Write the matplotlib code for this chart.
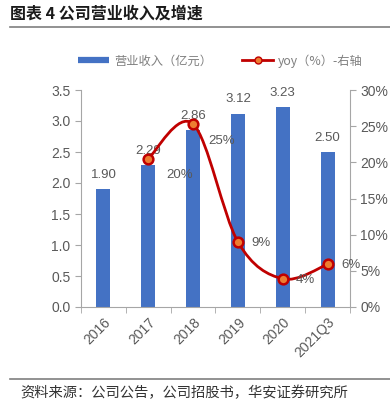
import matplotlib.pyplot as plt
from matplotlib.path import Path
from matplotlib.patches import PathPatch
from matplotlib.lines import Line2D
import numpy as np

plt.rcParams['font.family'] = ['Noto Sans CJK SC', 'DejaVu Sans']

years = ['2016', '2017', '2018', '2019', '2020', '2021Q3']
revenue = [1.90, 2.29, 2.86, 3.12, 3.23, 2.50]
yoy_years = [1, 2, 3, 4, 5]   # 2017 .. 2021Q3
yoy = [20.5, 25.3, 9.0, 3.9, 5.9]
yoy_labels = ['20%', '25%', '9%', '4%', '6%']

# label offsets in pixels (dx, dy) for the yoy labels
yoy_offsets = [(18, -16), (15, -17), (13, -1), (13, -1), (14, -1)]

grey = '#595959'
blue = '#4472C4'
red = '#C00000'
orange = '#ED7D31'

fig = plt.figure(figsize=(3.9, 4.15), dpi=100)
ax = fig.add_axes([81 / 390, 1 - 307 / 415, 269 / 390, 217 / 415])
ax2 = ax.twinx()

x = np.arange(len(years))
ax.bar(x, revenue, width=0.31, color=blue, zorder=2)
for xi, v in zip(x, revenue):
    ax.text(xi, v + 0.13, f'{v:.2f}', ha='center', va='bottom', fontsize=9.5, color=grey,
            family='Liberation Sans')

ax.set_ylim(0, 3.5)
ax.set_xlim(-0.5, len(years) - 0.5)
ax.set_yticks(np.arange(0, 3.51, 0.5))
ax.set_yticklabels([f'{t:.1f}' for t in np.arange(0, 3.51, 0.5)])
ax.set_xticks(x)
ax.set_xticklabels(years, rotation=45, ha='right', rotation_mode='anchor')
ax.set_xticks(np.arange(-0.5, len(years)), minor=True)
ax.tick_params(axis='x', which='major', length=0, pad=6)
ax.tick_params(axis='x', which='minor', length=4, color='#A6A6A6')

ax2.set_ylim(0, 30)
ax2.set_yticks(range(0, 31, 5))
ax2.set_yticklabels([f'{t}%' for t in range(0, 31, 5)])

for a in (ax, ax2):
    a.spines['top'].set_visible(False)
    for s in ('left', 'right', 'bottom'):
        a.spines[s].set_color('#A6A6A6')
    a.tick_params(axis='y', colors=grey, labelsize=10, length=4)
    a.tick_params(axis='y', color='#A6A6A6')
    a.tick_params(axis='x', colors=grey, labelsize=10)
    for lab in a.get_xticklabels() + a.get_yticklabels():
        lab.set_family('Liberation Sans')
ax.spines['right'].set_visible(False)
ax2.spines['left'].set_visible(False)
ax2.spines['bottom'].set_visible(False)

# smooth curve through yoy points (Catmull-Rom as cubic bezier)
pts = np.column_stack([yoy_years, yoy]).astype(float)
verts = [tuple(pts[0])]
codes = [Path.MOVETO]
for i in range(len(pts) - 1):
    p0 = pts[i - 1] if i > 0 else pts[i]
    p1, p2 = pts[i], pts[i + 1]
    p3 = pts[i + 2] if i + 2 < len(pts) else pts[i + 1]
    c1 = p1 + (p2 - p0) / 6
    c2 = p2 - (p3 - p1) / 6
    verts += [tuple(c1), tuple(c2), tuple(p2)]
    codes += [Path.CURVE4] * 3
ax2.add_patch(PathPatch(Path(verts, codes), fill=False, edgecolor=red, lw=2, zorder=3))
ax2.plot(yoy_years, yoy, ls='none', marker='o', ms=7, mfc=orange, mec=red, mew=1.8, zorder=4)
for xi, v, lab, (dx, dy) in zip(yoy_years, yoy, yoy_labels, yoy_offsets):
    ax2.annotate(lab, (xi, v), xytext=(dx * 0.72, dy * 0.72), textcoords='offset points',
                 ha='left', va='center', fontsize=9.5, color=grey, family='Liberation Sans')

handles = [Line2D([], [], color=blue, lw=4.5, solid_capstyle='butt'),
           Line2D([], [], color=red, lw=2, marker='o', ms=5, mfc=orange, mec=red)]
fig.legend(handles, ['营业收入（亿元）', 'yoy（%）-右轴'], loc='center',
           bbox_to_anchor=(0.565, 1 - 61 / 415), ncol=2, frameon=False, fontsize=8.8,
           labelcolor='#7F7F7F', handlelength=2.6, columnspacing=2.4, handletextpad=0.4)

fig.text(10 / 390, 1 - 14 / 415, '图表 4 公司营业收入及增速', fontsize=11.5, fontweight='bold',
         va='center', ha='left', color='#1a1a1a')
fig.add_artist(Line2D([10 / 390, 1], [1 - 27 / 415] * 2, color='#7F7F7F', lw=1.2))
fig.add_artist(Line2D([10 / 390, 1], [1 - 379 / 415] * 2, color='#7F7F7F', lw=1.2))
fig.text(20 / 390, 1 - 393 / 415, '资料来源：公司公告，公司招股书，华安证券研究所', fontsize=10.3,
         va='center', ha='left', color='#333333')

fig.savefig('out.png', dpi=100)
